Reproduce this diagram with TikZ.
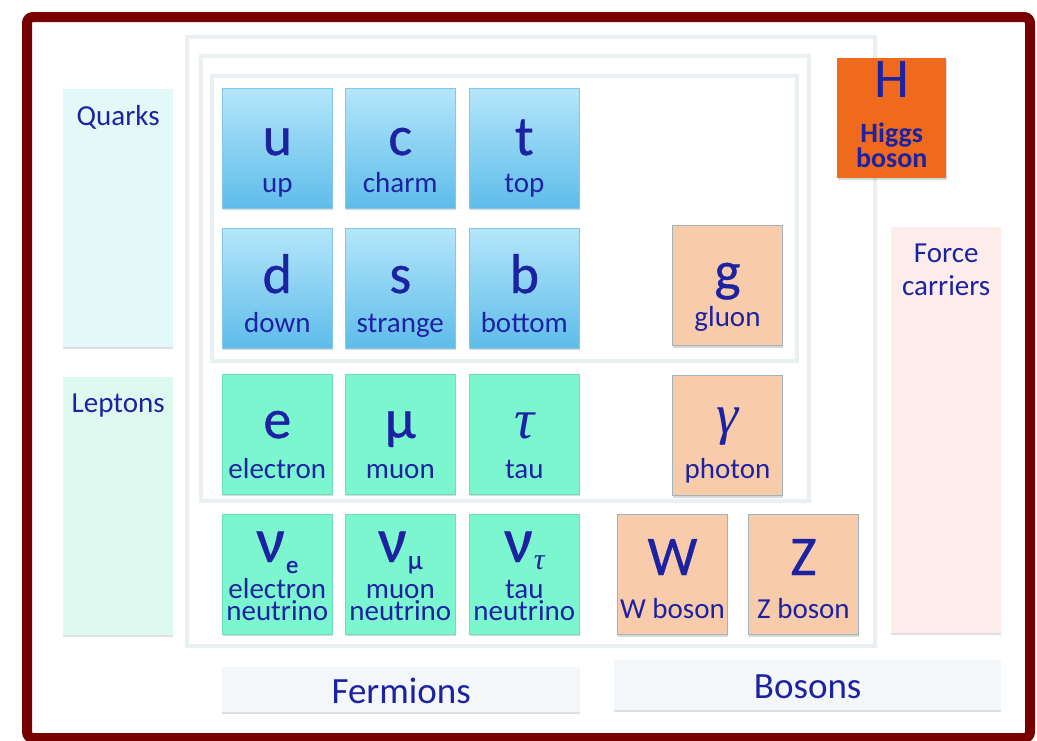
\documentclass[tikz,border=0pt]{standalone}
\usepackage{fontspec}
\setmainfont{Carlito}
\newfontfamily\symfam{Carlito}[FakeBold=0.6]
\newfontfamily\gkserif{Liberation Serif}
\usetikzlibrary{calc,shadows}
\definecolor{framec}{RGB}{120,0,0}
\definecolor{boxline}{RGB}{234,239,241}
\definecolor{qtop}{RGB}{180,230,250}
\definecolor{qbot}{RGB}{94,188,234}
\definecolor{qbord}{RGB}{130,200,232}
\definecolor{lept}{RGB}{124,246,206}
\definecolor{leptbord}{RGB}{108,222,186}
\definecolor{bos}{RGB}{248,204,170}
\definecolor{bosbord}{RGB}{160,180,188}
\definecolor{higgs}{RGB}{239,106,28}
\definecolor{qlab}{RGB}{226,249,247}
\definecolor{llab}{RGB}{222,249,239}
\definecolor{flab}{RGB}{252,237,235}
\definecolor{glab}{RGB}{244,247,249}
\definecolor{ink}{RGB}{28,34,162}
\newcommand\nusub[3]{\raisebox{#1}{\fontsize{#2}{#2}\selectfont #3}}
\newcommand\twoline[3]{\vtop{\baselineskip=#1\lineskiplimit=-100pt\lineskip=0pt
  \halign{\hfil##\hfil\cr #2\cr #3\cr}}}
\newcommand\mktile[8]{%
  \node[#4] (#1) at (#2,#3) {};
  \node[sym] (#1-sym) at ($(#1.north)+(0,#6)$) {#5};
  \node[lbl] (#1-lbl) at ($(#1.north)+(0,#8)$) {#7};
}
\begin{document}
\begin{tikzpicture}[x=1pt,y=-1pt,
  tilebase/.style={anchor=north west, minimum width=110pt, minimum height=120pt, inner sep=0pt,
    drop shadow={shadow xshift=0.5pt, shadow yshift=-2pt, opacity=0.25, fill=black!60}},
  quarktile/.style={tilebase, top color=qtop, bottom color=qbot, draw=qbord, line width=0.6pt},
  leptontile/.style={tilebase, fill=lept, draw=leptbord, line width=0.6pt},
  bosontile/.style={tilebase, fill=bos, draw=bosbord, line width=1pt},
  higgstile/.style={tilebase, fill=higgs, minimum width=109pt},
  sym/.style={anchor=base, text=ink, font=\symfam\fontsize{56}{56}\selectfont, inner sep=0pt},
  nusym/.style={sym, font=\symfam\fontsize{64}{64}\selectfont},
  lbl/.style={anchor=base, text=ink, font=\fontsize{29}{29}\selectfont, inner sep=0pt},
  group/.style={anchor=north west, draw=boxline, line width=4pt, inner sep=0pt},
  labbox/.style={anchor=north west, inner sep=0pt,
    drop shadow={shadow xshift=0pt, shadow yshift=-2pt, opacity=0.25, fill=black!50}},
  labtxt/.style={anchor=base, text=ink, font=\fontsize{29}{33}\selectfont, inner sep=0pt},
  bigtxt/.style={anchor=base, text=ink, font=\fontsize{37}{37}\selectfont, inner sep=0pt}
]
\useasboundingbox (0,0) rectangle (1037,740);
\fill[white] (0,0) rectangle (1037,740);
% outer frame
\node[anchor=north west, draw=framec, line width=10pt, rounded corners=6pt,
  minimum width=1003pt, minimum height=721pt, inner sep=0pt] (frame) at (22,12) {};
% nested groups
\node[group, minimum width=688pt, minimum height=609pt] (all) at (185,35) {};
\node[group, minimum width=608pt, minimum height=445pt] (gen12) at (199,54) {};
\node[group, minimum width=585pt, minimum height=285pt] (quarkgrp) at (210,74) {};
% side label boxes
\node[labbox, fill=qlab, minimum width=110pt, minimum height=258pt] (quarks) at (63,89) {};
\node[labtxt] (quarks-t) at ($(quarks.north)+(0,36)$) {Quarks};
\node[labbox, fill=llab, minimum width=110pt, minimum height=258pt] (leptons) at (63,377) {};
\node[labtxt] (leptons-t) at ($(leptons.north)+(0,35)$) {Leptons};
\node[labbox, fill=flab, minimum width=110pt, minimum height=406pt] (force) at (891,227) {};
\node[labtxt] (force-t) at ($(force.north)+(0,35)$) {\twoline{33pt}{Force}{carriers}};
\node[labbox, fill=glab, minimum width=358pt, minimum height=45pt] (fermions) at (222,667) {};
\node[bigtxt] (fermions-t) at ($(fermions.north)+(0,36)$) {Fermions};
\node[labbox, fill=glab, minimum width=387pt, minimum height=50pt] (bosons) at (614,660) {};
\node[bigtxt] (bosons-t) at ($(bosons.north)+(0,38)$) {Bosons};
% quarks
\mktile{u}{222}{88}{quarktile}{u}{67}{up}{104}
\mktile{c}{345}{88}{quarktile}{c}{67}{charm}{104}
\mktile{t}{469}{88}{quarktile}{t}{67}{top}{104}
\mktile{d}{222}{228}{quarktile}{d}{65}{down}{104}
\mktile{s}{345}{228}{quarktile}{s}{65}{strange}{104}
\mktile{b}{469}{228}{quarktile}{b}{65}{bottom}{104}
% leptons
\mktile{e}{222}{374}{leptontile}{e}{64}{electron}{104}
\mktile{mu}{345}{374}{leptontile}{µ}{64}{muon}{104}
\mktile{tau}{469}{374}{leptontile}{{\gkserif\itshape τ}}{64}{tau}{104}
% neutrinos
\node[leptontile] (nue) at (222,514) {};
\node[nusym] (nue-sym) at ($(nue.north)+(0,48)$) {ν\kern1pt\nusub{-11pt}{25}{e}};
\node[lbl] (nue-lbl) at ($(nue.north)+(0,84)$) {\twoline{22pt}{electron}{neutrino}};
\node[leptontile] (numu) at (345,514) {};
\node[nusym] (numu-sym) at ($(numu.north)+(0,48)$) {ν\kern1pt\nusub{-7pt}{27}{µ}};
\node[lbl] (numu-lbl) at ($(numu.north)+(0,84)$) {\twoline{22pt}{muon}{neutrino}};
\node[leptontile] (nutau) at (469,514) {};
\node[nusym] (nutau-sym) at ($(nutau.north)+(0,48)$) {ν\kern1pt\nusub{-7pt}{30}{\gkserif\itshape τ}};
\node[lbl] (nutau-lbl) at ($(nutau.north)+(0,84)$) {\twoline{22pt}{tau}{neutrino}};
% bosons
\mktile{g}{672}{225}{bosontile}{g}{65}{gluon}{101}
\mktile{gamma}{672}{375}{bosontile}{{\gkserif\itshape γ}}{58}{photon}{103}
\mktile{W}{617}{514}{bosontile}{W}{61}{W boson}{104}
\mktile{Z}{748}{514}{bosontile}{Z}{61}{Z boson}{104}
% Higgs
\node[higgstile] (H) at (837,58) {};
\node[sym, font=\fontsize{56}{56}\selectfont] (H-sym) at ($(H.north)+(0,39)$) {H};
\node[lbl, font=\bfseries\fontsize{28}{25}\selectfont] (H-lbl) at ($(H.north)+(0,84)$) {\twoline{25pt}{Higgs}{boson}};
\end{tikzpicture}
\end{document}
